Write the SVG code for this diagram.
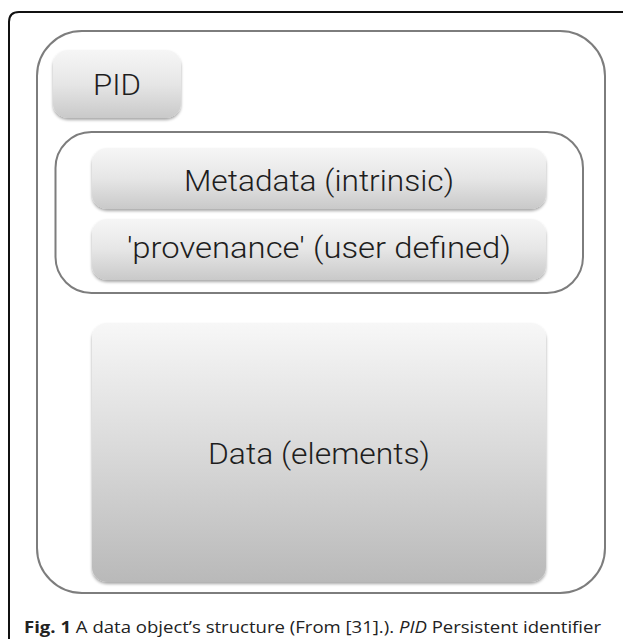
<svg xmlns="http://www.w3.org/2000/svg" width="625" height="639" viewBox="0 0 625 639">
<defs>
<linearGradient id="gSmall" x1="0" y1="0" x2="0" y2="1">
<stop offset="0" stop-color="#f6f6f6"/>
<stop offset="0.5" stop-color="#e6e6e6"/>
<stop offset="1" stop-color="#c9c9c9"/>
</linearGradient>
<linearGradient id="gData" x1="0" y1="0" x2="0" y2="1">
<stop offset="0" stop-color="#f7f7f7"/>
<stop offset="0.5" stop-color="#d9d9d9"/>
<stop offset="1" stop-color="#b9b9b9"/>
</linearGradient>
<filter id="sh" x="-10%" y="-10%" width="120%" height="130%">
<feGaussianBlur in="SourceAlpha" stdDeviation="1.5"/>
<feOffset dy="1.5" result="b"/>
<feComponentTransfer><feFuncA type="linear" slope="0.35"/></feComponentTransfer>
<feMerge><feMergeNode/><feMergeNode in="SourceGraphic"/></feMerge>
</filter>
</defs>
<style>
.frame{fill:none;stroke:#111;stroke-width:2}
.outline{fill:none;stroke:#7d7d7d;stroke-width:2}
.box{fill:url(#gSmall);filter:url(#sh)}
.dbox{fill:url(#gData);filter:url(#sh)}
.lbl{font-family:Roboto,"Liberation Sans",Arial,sans-serif;font-weight:300;font-size:30px;fill:#1e1e1e;text-anchor:middle}
.cap{font-family:"Open Sans","Noto Sans",sans-serif;font-size:16px;fill:#222}
</style>
<rect width="625" height="639" fill="#ffffff"/>
<path class="frame" d="M9,639 V22 Q9,12 19,12 H623"/>
<g id="data-object">
<rect class="outline" x="37" y="31" width="568" height="562" rx="45"/>
</g>
<g id="pid">
<rect class="box" x="53" y="50" width="128" height="68" rx="15"/>
<text class="lbl" x="117" y="95" textLength="48" lengthAdjust="spacingAndGlyphs">PID</text>
</g>
<g id="metadata-group">
<rect class="outline" x="55.5" y="132" width="527.5" height="161" rx="36"/>
</g>
<g id="metadata">
<rect class="box" x="92" y="148" width="454" height="61" rx="15"/>
<text class="lbl" x="319" y="191" textLength="270" lengthAdjust="spacingAndGlyphs">Metadata (intrinsic)</text>
</g>
<g id="provenance">
<rect class="box" x="92" y="219" width="454" height="61" rx="15"/>
<text class="lbl" x="319" y="258" textLength="384" lengthAdjust="spacingAndGlyphs">'provenance' (user defined)</text>
</g>
<g id="data">
<rect class="dbox" x="92" y="323" width="454" height="259" rx="15"/>
<text class="lbl" x="319" y="464" textLength="222" lengthAdjust="spacingAndGlyphs">Data (elements)</text>
</g>
<g id="connectors"/>
<text class="cap" x="24" y="633" textLength="577" lengthAdjust="spacingAndGlyphs"><tspan font-weight="bold">Fig. 1</tspan> A data object’s structure (From [31].). <tspan font-style="italic">PID</tspan> Persistent identifier</text>
</svg>
